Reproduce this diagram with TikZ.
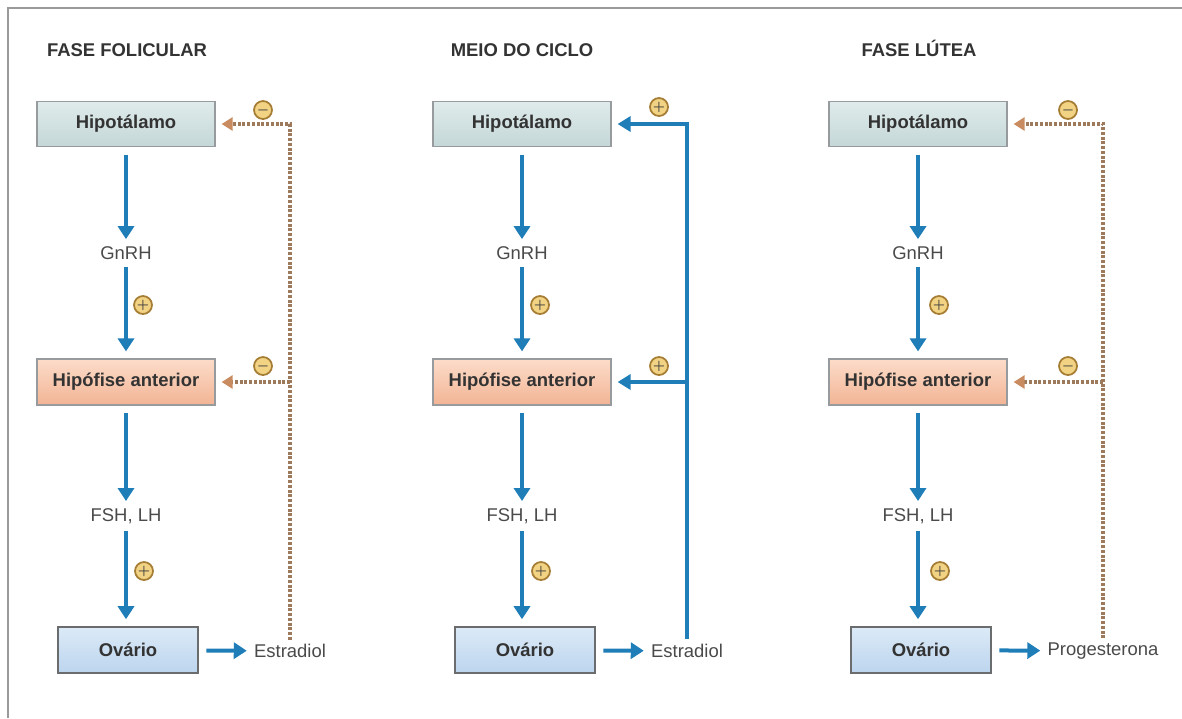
\documentclass[tikz,border=0pt]{standalone}
\usepackage{fontspec}
\setmainfont{Liberation Sans}
\usetikzlibrary{arrows.meta}
\usetikzlibrary{calc}

\definecolor{flowblue}{HTML}{1F7DB8}
\definecolor{fbbrown}{HTML}{9E7A5C}
\definecolor{fbtip}{HTML}{C98C60}
\definecolor{boxline}{HTML}{979B9D}
\definecolor{txtgray}{HTML}{4A4A4A}
\definecolor{frame}{HTML}{9A9A9A}
\definecolor{hipotop}{HTML}{E0EBEB}
\definecolor{hipobot}{HTML}{C4D7D8}
\definecolor{hpftop}{HTML}{FCDCCA}
\definecolor{hpfbot}{HTML}{F2B494}
\definecolor{ovatop}{HTML}{DCEAF7}
\definecolor{ovabot}{HTML}{BCD5EE}
\definecolor{sgnfill}{HTML}{F2D283}
\definecolor{sgnline}{HTML}{A57D35}

\tikzset{
  hipo/.style={draw=boxline, line width=0.7pt, top color=hipotop, bottom color=hipobot,
    minimum width=3.56cm, minimum height=0.9cm, font=\bfseries\fontsize{10.5}{12}\selectfont, text=black!80},
  hpf/.style={draw=boxline, line width=0.7pt, top color=hpftop, bottom color=hpfbot,
    minimum width=3.56cm, minimum height=0.92cm, font=\bfseries\fontsize{10.5}{12}\selectfont, text=black!80},
  ova/.style={draw=boxline!70!black, line width=0.9pt, top color=ovatop, bottom color=ovabot,
    minimum width=2.8cm, minimum height=0.92cm, font=\bfseries\fontsize{10.5}{12}\selectfont, text=black!80},
  hormone/.style={inner sep=0pt, text=txtgray, font=\fontsize{10.5}{12}\selectfont},
  phase/.style={inner sep=0pt, anchor=base, text=black!80, font=\bfseries\fontsize{10.5}{12}\selectfont},
  flow/.style={draw=flowblue, line width=0.08cm, -{Triangle[length=0.26cm,width=0.32cm]},
    shorten <=0.15cm, shorten >=0.14cm},
  posfb/.style={draw=flowblue, line width=0.07cm, -{Triangle[length=0.26cm,width=0.3cm]}},
  negfb/.style={draw=fbbrown, line width=0.07cm, dash pattern=on 0.06cm off 0.035cm,
    -{Triangle[length=0.22cm,width=0.26cm,fill=fbtip,color=fbtip]}},
  sgn/.style={circle, draw=sgnline, line width=1pt, fill=sgnfill,
    minimum size=0.36cm, inner sep=0pt, font=\boldmath\scriptsize, text=black!75}
}

\begin{document}
\begin{tikzpicture}[x=0.02cm, y=-0.02cm]
\useasboundingbox (0,0) rectangle (1182,718);
\draw[frame, line width=1.2pt] (8,718) -- (8,8) -- (1182,8);

% fase folicular
\draw(127,56) node[phase] (t1) {FASE FOLICULAR};
\draw(126,124) node[hipo] (hip1) {Hipotálamo};
\draw(126,253) node[hormone] (gn1) {GnRH};
\draw(126,382) node[hpf] (hpf1) {Hipófise anterior};
\draw(126,516) node[hormone] (fsh1) {FSH, LH};
\draw(128,650) node[ova] (ova1) {Ovário};
\draw(290,651) node[hormone] (est1) {Estradiol};
\draw[flow] (hip1) -- (gn1);
\draw[flow] (gn1) -- (hpf1);
\draw[flow] (hpf1) -- (fsh1);
\draw[flow] (fsh1) -- (fsh1 |- ova1.north);
\draw[flow] (ova1) -- (est1);
\draw[negfb, shorten <=0.08cm, shorten >=0.12cm] (est1.north) |- (hip1.east);
\draw[negfb, shorten >=0.12cm] (est1.north |- hpf1.east) -- (hpf1.east);
\draw(263,110) node[sgn] (s1a) {$-$};
\draw(263,366) node[sgn] (s1b) {$-$};
\draw(143,305) node[sgn] (s1c) {$+$};
\draw(144,571) node[sgn] (s1d) {$+$};

% meio do ciclo
\draw(522,56) node[phase] (t2) {MEIO DO CICLO};
\draw(522,124) node[hipo] (hip2) {Hipotálamo};
\draw(522,253) node[hormone] (gn2) {GnRH};
\draw(522,382) node[hpf] (hpf2) {Hipófise anterior};
\draw(522,516) node[hormone] (fsh2) {FSH, LH};
\draw(525,650) node[ova] (ova2) {Ovário};
\draw(687,651) node[hormone] (est2) {Estradiol};
\draw[flow] (hip2) -- (gn2);
\draw[flow] (gn2) -- (hpf2);
\draw[flow] (hpf2) -- (fsh2);
\draw[flow] (fsh2) -- (fsh2 |- ova2.north);
\draw[flow] (ova2) -- (est2);
\draw[posfb, shorten <=0.1cm, shorten >=0.12cm] (est2.north) |- (hip2.east);
\draw[posfb, shorten >=0.12cm] (est2.north |- hpf2.east) -- (hpf2.east);
\draw(659,107) node[sgn] (s2a) {$+$};
\draw(659,366) node[sgn] (s2b) {$+$};
\draw(540,305) node[sgn] (s2c) {$+$};
\draw(541,571) node[sgn] (s2d) {$+$};

% fase lutea
\draw(919,56) node[phase] (t3) {FASE LÚTEA};
\draw(918,124) node[hipo] (hip3) {Hipotálamo};
\draw(918,253) node[hormone] (gn3) {GnRH};
\draw(918,382) node[hpf] (hpf3) {Hipófise anterior};
\draw(918,516) node[hormone] (fsh3) {FSH, LH};
\draw(921,650) node[ova] (ova3) {Ovário};
\draw(1103,651) node[hormone] (prg3) {Progesterona};
\draw[flow] (hip3) -- (gn3);
\draw[flow] (gn3) -- (hpf3);
\draw[flow] (hpf3) -- (fsh3);
\draw[flow] (fsh3) -- (fsh3 |- ova3.north);
\draw[flow] (ova3) -- (prg3);
\draw[negfb, shorten <=0.08cm, shorten >=0.12cm] (prg3.north) |- (hip3.east);
\draw[negfb, shorten >=0.12cm] (prg3.north |- hpf3.east) -- (hpf3.east);
\draw(1068,110) node[sgn] (s3a) {$-$};
\draw(1068,366) node[sgn] (s3b) {$-$};
\draw(939,305) node[sgn] (s3c) {$+$};
\draw(940,571) node[sgn] (s3d) {$+$};
\end{tikzpicture}
\end{document}
